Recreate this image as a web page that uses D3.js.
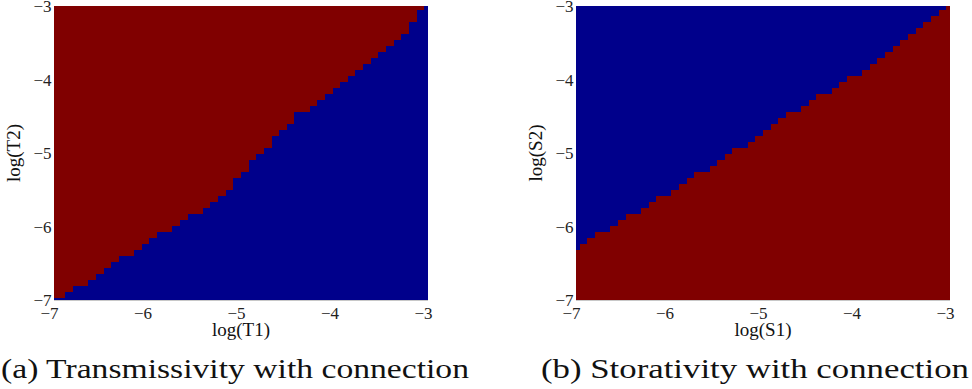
<!DOCTYPE html>
<html>
<head>
<meta charset="utf-8">
<script src="https://cdn.jsdelivr.net/npm/d3@7"></script>
<style>
  html, body { margin: 0; padding: 0; background: #fff; }
  svg { display: block; }
</style>
</head>
<body>
<svg id="fig" width="972" height="389"></svg>
<script>
// Parameter grid: 50 log-values from -7 to -3 in each direction
const gridSize = 50;
const logMin = -7, logMax = -3;
const tickValues = [-7, -6, -5, -4, -3];

// Panel (a): for each log(T1) column, index of the first log(T2) row
// (counted from the bottom) that falls in the "connection" region.
const transFirstConnectedRow = [
  1, 1, 2, 3, 3, 4, 5, 6, 7, 8,
  8, 9, 10, 11, 12, 12, 13, 14, 15, 15,
  16, 17, 18, 19, 21, 22, 24, 25, 26, 28,
  29, 30, 32, 32, 33, 34, 35, 36, 37, 38,
  39, 40, 41, 42, 43, 44, 45, 47, 49, 50
];

// Panel (b): for each log(S1) column, number of log(S2) rows
// (counted from the bottom) in the "connection" region.
const storConnectedRows = [
  9, 10, 11, 12, 12, 13, 14, 15, 15, 16,
  17, 18, 18, 19, 20, 21, 22, 22, 23, 24,
  25, 26, 26, 27, 28, 29, 30, 31, 32, 32,
  33, 34, 35, 35, 36, 37, 38, 38, 39, 40,
  41, 42, 43, 44, 45, 46, 47, 48, 49, 50
];

const panelTitles = ["(a) Transmissivity with connection", "(b) Storativity with connection"];
const xLabels = ["log(T1)", "log(S1)"];
const yLabels = ["log(T2)", "log(S2)"];

const colorOn = "#800000";   // jet maximum
const colorOff = "#00008b";  // jet minimum

const step = (logMax - logMin) / (gridSize - 1);
const gridValues = d3.range(gridSize).map(i => logMin + i * step);

const svg = d3.select("#fig");
const serif = "'Liberation Serif', 'Times New Roman', serif";

function drawPanel(opts) {
  const { left, right, top, bottom, isOn, xLabel, yLabel, title, titleX, titleWidth, id } = opts;
  const x = d3.scaleLinear().domain([logMin, logMax]).range([left, right]);
  const y = d3.scaleLinear().domain([logMin, logMax]).range([bottom, top]);

  svg.append("clipPath").attr("id", "clip-" + id)
    .append("rect")
    .attr("x", left).attr("y", top)
    .attr("width", right - left).attr("height", bottom - top);

  const cells = [];
  gridValues.forEach((xv, i) => {
    gridValues.forEach((yv, j) => {
      cells.push({ xv, yv, on: isOn(i, j) });
    });
  });

  const g = svg.append("g").attr("clip-path", `url(#clip-${id})`);
  g.selectAll("rect")
    .data(cells)
    .join("rect")
    .attr("x", d => x(d.xv - step / 2))
    .attr("y", d => y(d.yv + step / 2))
    .attr("width", d => x(d.xv + step / 2) - x(d.xv - step / 2) + 0.6)
    .attr("height", d => y(d.yv - step / 2) - y(d.yv + step / 2) + 0.6)
    .attr("fill", d => d.on ? colorOn : colorOff)
    .attr("shape-rendering", "crispEdges");

  // faint lower spine
  svg.append("line")
    .attr("x1", left).attr("x2", right)
    .attr("y1", bottom + 0.5).attr("y2", bottom + 0.5)
    .attr("stroke", "#c8c8c8").attr("stroke-width", 1);

  const fmt = v => "\u2212" + Math.abs(v);

  // x tick labels: digit centred on the tick, minus hanging to the left
  svg.append("g").selectAll("text")
    .data(tickValues)
    .join("text")
    .attr("x", d => x(d) + 4.5)
    .attr("y", bottom + 18.5)
    .attr("text-anchor", "end")
    .attr("font-family", serif)
    .attr("font-size", 17)
    .attr("fill", "#222")
    .text(fmt);

  // y tick labels
  svg.append("g").selectAll("text")
    .data(tickValues)
    .join("text")
    .attr("x", left - 2.5)
    .attr("y", d => y(d) + 6)
    .attr("text-anchor", "end")
    .attr("font-family", serif)
    .attr("font-size", 17)
    .attr("fill", "#222")
    .text(fmt);

  // axis labels
  svg.append("text")
    .attr("x", (left + right) / 2)
    .attr("y", bottom + 36)
    .attr("text-anchor", "middle")
    .attr("font-family", serif)
    .attr("font-size", 19)
    .attr("fill", "#111")
    .text(xLabel);

  svg.append("text")
    .attr("transform", `translate(${left - 34},${(top + bottom) / 2}) rotate(-90)`)
    .attr("text-anchor", "middle")
    .attr("font-family", serif)
    .attr("font-size", 19)
    .attr("fill", "#111")
    .text(yLabel);

  // caption
  svg.append("text")
    .attr("x", titleX)
    .attr("y", 378)
    .attr("font-family", serif)
    .attr("font-size", 28)
    .attr("fill", "#111")
    .attr("textLength", titleWidth)
    .attr("lengthAdjust", "spacingAndGlyphs")
    .text(title);
}

drawPanel({
  id: "a", left: 54, right: 428, top: 6, bottom: 300,
  isOn: (i, j) => j >= transFirstConnectedRow[i],
  xLabel: xLabels[0], yLabel: yLabels[0], title: panelTitles[0],
  titleX: 1, titleWidth: 468
});

drawPanel({
  id: "b", left: 576, right: 950, top: 6, bottom: 300,
  isOn: (i, j) => j < storConnectedRows[i],
  xLabel: xLabels[1], yLabel: yLabels[1], title: panelTitles[1],
  titleX: 541, titleWidth: 428
});
</script>
</body>
</html>
